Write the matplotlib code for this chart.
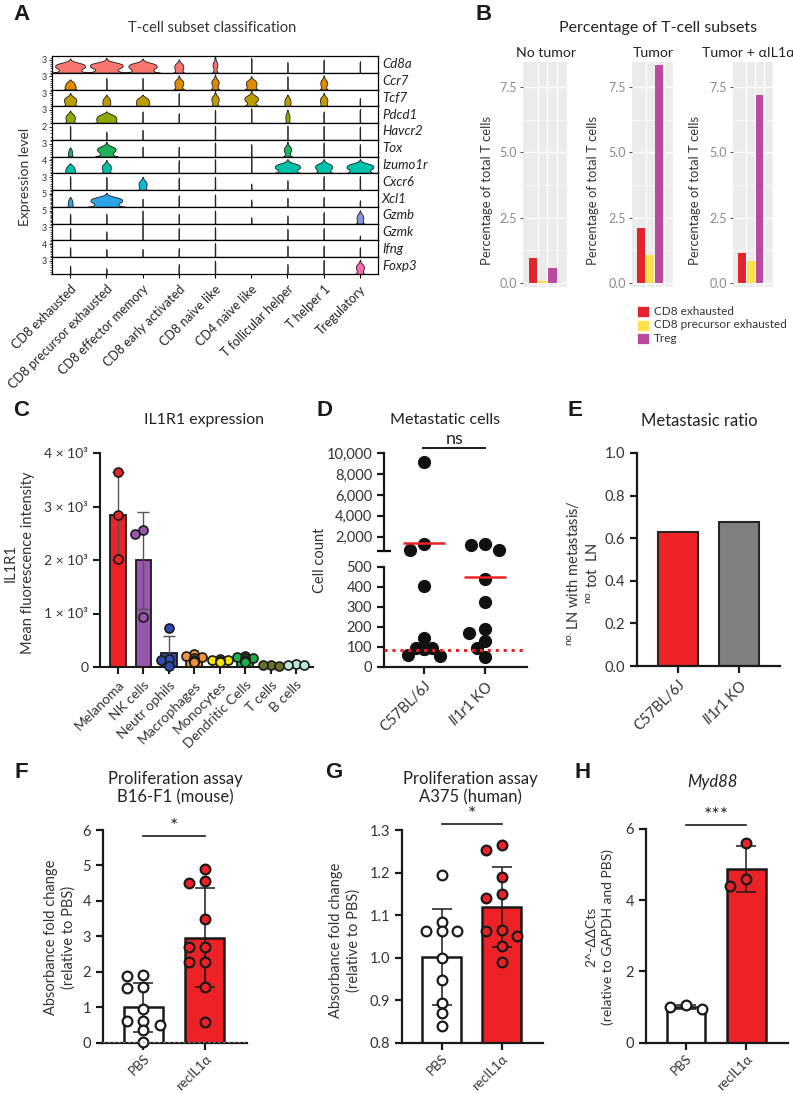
import numpy as np
import matplotlib
matplotlib.use("Agg")
import matplotlib.pyplot as plt
from matplotlib.patches import Rectangle
from matplotlib.ticker import FuncFormatter
import matplotlib.transforms as mtrans

plt.rcParams["font.family"] = ["Lato", "DejaVu Sans"]
plt.rcParams["mathtext.fontset"] = "custom"
plt.rcParams["mathtext.rm"] = "Lato"
plt.rcParams["mathtext.it"] = "Lato:italic"

# ---------------- data ----------------
# A: stacked violins (gene x subset)
genes = ["Cd8a", "Ccr7", "Tcf7", "Pdcd1", "Havcr2", "Tox", "Izumo1r",
         "Cxcr6", "Xcl1", "Gzmb", "Gzmk", "Ifng", "Foxp3"]
gene_max = [3, 3, 3, 3, 2, 3, 4, 3, 5, 5, 3, 4, 3]
subsets = ["CD8 exhausted", "CD8 precursor exhausted", "CD8 effector memory",
           "CD8 early activated", "CD8 naive like", "CD4 naive like",
           "T follicular helper", "T helper 1", "Tregulatory"]
gene_colors = ["#F8766D", "#E18A00", "#BE9C00", "#8CAB00", "#24B700", "#1FB25A",
               "#00C1AB", "#00BBDA", "#2FA3E8", "#8B93D8", "#D575FE", "#F962DD", "#FF65AC"]
# relative bulge width of each violin
violin_width = [
    [0.90, 1.00, 0.85, 0.25, 0.12, 0, 0, 0, 0],
    [0.25, 0, 0, 0.25, 0.20, 0.30, 0, 0.18, 0],
    [0.35, 0.20, 0.35, 0, 0.20, 0.40, 0.15, 0.20, 0],
    [0.25, 0.55, 0, 0, 0, 0, 0.10, 0, 0],
    [0, 0, 0, 0, 0, 0, 0, 0, 0],
    [0.08, 0.55, 0, 0, 0, 0, 0.20, 0, 0],
    [0.22, 0.25, 0, 0, 0, 0, 0.75, 0.50, 0.80],
    [0, 0, 0.22, 0, 0, 0, 0, 0, 0],
    [0.10, 0.95, 0, 0, 0, 0, 0, 0, 0],
    [0, 0, 0, 0, 0, 0, 0, 0, 0.18],
    [0, 0, 0, 0, 0, 0, 0, 0, 0],
    [0, 0, 0, 0, 0, 0, 0, 0, 0],
    [0, 0, 0, 0, 0, 0, 0, 0, 0.22],
]
# how high each violin reaches (fraction of row height)
violin_reach = [
    [0.86, 0.90, 0.85, 0.80, 1.00, 0.90, 0.65, 0.80, 0.70],
    [0.60, 0.70, 0.70, 0.85, 0.90, 0.80, 0.80, 0.85, 0],
    [0.80, 0.70, 0.70, 0.80, 0.90, 0.95, 0.70, 0.80, 0.50],
    [0.75, 0.70, 0.70, 0.60, 0.80, 0.90, 0.80, 0.70, 0.85],
    [0.85, 0.50, 0.60, 0, 0.85, 0, 0.85, 0.85, 0.80],
    [0.55, 0.90, 0.60, 0.60, 0.85, 0.75, 0.90, 0.85, 0.75],
    [0.60, 0.80, 0, 0.80, 0.85, 0.95, 0.85, 0.85, 0.85],
    [0.85, 0.80, 0.80, 0.75, 0.80, 0.40, 0.60, 0.85, 0.85],
    [0.60, 0.85, 0.50, 0.70, 0.75, 0.45, 0.55, 0.60, 0.40],
    [0.60, 0.60, 0.80, 0.60, 0.80, 0.40, 0.50, 0.70, 0.80],
    [0.75, 0.55, 0.95, 0.75, 0.80, 0, 0.70, 0.75, 0.30],
    [0.60, 0.50, 0.50, 0.55, 0.85, 0, 0.70, 0.70, 0.60],
    [0.50, 0.35, 0, 0.60, 0.80, 0, 0.60, 0.85, 0.85],
]

# B: percentage of T-cell subsets
b_conditions = ["No tumor", "Tumor", "Tumor + αIL1α"]
b_subsets = ["CD8 exhausted", "CD8 precursor exhausted", "Treg"]
b_cd8_exhausted = [0.97, 2.12, 1.15]
b_cd8_precursor = [0.08, 1.07, 0.85]
b_treg = [0.57, 8.32, 7.20]
b_colors = ["#E3242B", "#FCE24A", "#B94A9F"]

# C: IL1R1 expression
c_cells = ["Melanoma", "NK cells", "Neutr ophils", "Macrophages", "Monocytes",
           "Dendritic Cells", "T cells", "B cells"]
c_points = [
    [3640, 2850, 2020],
    [2560, 2480, 940],
    [720, 150, 130, 10],
    [240, 210, 180, 160, 140, 120, 100, 90],
    [150, 140, 130, 120, 110, 100],
    [200, 190, 175, 160, 140, 120, 100],
    [40, 30, 20],
    [50, 40, 30],
]
c_colors = ["#EC2227", "#9A55AE", "#2F4DB0", "#F39138", "#F3E600", "#1DAF4A",
            "#6E6E2C", "#BDE6DA"]

# D: metastatic cells
d_groups = ["C57BL/6J", "$\\mathit{Il1r1}$ KO"]
d_counts = [
    [9100, 1300, 700, 405, 142, 95, 92, 90, 88, 60, 55],
    [1300, 1250, 700, 440, 325, 187, 170, 130, 92, 47],
]
d_center_line = [1450, 450]
d_threshold = 83

# E: metastatic ratio
e_groups = ["C57BL/6J", "$\\mathit{Il1r1}$ KO"]
e_ratio = [0.63, 0.675]
e_colors = ["#EE2427", "#808080"]

# F, G, H: proliferation / qPCR
fgh_groups = ["PBS", "recIL1α"]
f_pbs = [1.88, 1.92, 1.55, 1.57, 0.95, 0.60, 0.50, 0.62, 0.35, 0.02]
f_rec = [4.89, 4.56, 4.50, 3.48, 2.71, 2.71, 2.27, 2.27, 1.58, 0.59]
g_pbs = [1.195, 1.083, 1.063, 1.063, 1.063, 1.000, 0.947, 0.894, 0.870, 0.840]
g_rec = [1.264, 1.253, 1.189, 1.150, 1.139, 1.065, 1.063, 1.051, 1.027, 0.989]
h_pbs = [0.95, 1.05, 1.00]
h_rec = [5.60, 4.40, 4.60]

RED = "#EC2227"

# ---------------- helpers ----------------
W, H = 793, 1093
fig = plt.figure(figsize=(W / 100, H / 100), dpi=100)


def px_axes(l, t, r, b):
    return fig.add_axes([l / W, 1 - b / H, (r - l) / W, (b - t) / H])


def ftext(x, y, s, **kw):
    kw.setdefault("ha", "center")
    kw.setdefault("va", "center")
    fig.text(x / W, 1 - y / H, s, **kw)


def swarm(values, px_x, px_y, diam, step, nmax=1):
    # simple beeswarm offsets in pixel space; overlap allowed when no room
    placed = []
    res = [0.0] * len(values)
    order = sorted(range(len(values)), key=lambda k: -values[k])
    slots = [0]
    for n in range(1, nmax + 1):
        slots += [-n, n]
    for k in order:
        v = values[k]
        ox = 0
        for n in slots:
            cand = n * step
            if all((cand - px) ** 2 + ((v - pv) * px_y) ** 2 >= diam ** 2
                   for px, pv in placed):
                ox = cand
                break
        placed.append((ox, v))
        res[k] = ox / px_x
    return res


def prism_style(ax, lw=1.6):
    for s in ["top", "right"]:
        ax.spines[s].set_visible(False)
    for s in ["left", "bottom"]:
        ax.spines[s].set_linewidth(lw)
        ax.spines[s].set_color("#1a1a1a")
    ax.tick_params(width=lw, length=5, color="#1a1a1a", labelsize=10.5,
                   labelcolor="#333333")


for letter, x, y in [("A", 21, 14), ("B", 484, 14), ("C", 21, 410), ("D", 325, 410),
                     ("E", 575, 410), ("F", 21, 773), ("G", 334, 773), ("H", 583, 773)]:
    ftext(x, y, letter, fontsize=16, fontweight="bold", family="Liberation Sans",
          color="#1a1a1a")

# ---------------- A ----------------
ftext(212, 28, "T-cell subset classification", fontsize=10.5, color="#333333")
ftext(25, 177, "Expression level", fontsize=10, rotation=90, color="#333333")
top_a, bot_a = 56, 274
row_h = (bot_a - top_a) / len(genes)
for i, g in enumerate(genes):
    t = top_a + i * row_h
    ax = px_axes(52, t, 378, t + row_h)
    M = gene_max[i]
    ytop = M / 0.78
    ax.set_xlim(-0.5, len(subsets) - 0.5)
    ax.set_ylim(0, ytop)
    for j in range(len(subsets)):
        reach = violin_reach[i][j]
        if reach <= 0:
            continue
        a = violin_width[i][j] * 0.46
        r = reach * ytop
        y = np.linspace(0, r, 400)
        u = y / ytop
        c = 0.48 * reach
        w = 0.012 + a * (0.95 * np.exp(-np.abs((u - c) / 0.23) ** 2.6)
                         + 0.85 * np.exp(-np.abs(u / 0.2) ** 2.0)) \
            + 0.35 * a * np.exp(-(u / 0.04) ** 2)
        w = w * np.clip((r - y) / (0.1 * ytop), 0.25, 1) ** 0.7
        fc = gene_colors[i] if a > 0 else "#1a1a1a"
        ax.fill_betweenx(y, j - w, j + w, facecolor=fc, edgecolor="#1a1a1a",
                         lw=0.6 if a > 0 else 0.4)
    ax.set_yticks([M])
    ax.set_yticks(np.arange(0, ytop, 0.5), minor=True)
    ax.tick_params(axis="y", which="major", labelsize=6.5, length=2, width=0.6,
                   pad=1.5, labelcolor="#333333")
    ax.tick_params(axis="y", which="minor", length=1.5, width=0.5)
    for s in ax.spines.values():
        s.set_linewidth(0.9)
    ax.text(1.012, 0.5, g, transform=ax.transAxes, fontsize=9.5, style="italic",
            va="center", ha="left", color="#222222")
    if i == len(genes) - 1:
        ax.set_xticks(range(len(subsets)))
        ax.set_xticklabels(subsets, rotation=45, ha="right", rotation_mode="anchor",
                           fontsize=9, color="#222222")
        ax.tick_params(axis="x", length=3, width=0.8)
    else:
        ax.set_xticks([])

# ---------------- B ----------------
ftext(658, 28, "Percentage of T-cell subsets", fontsize=11.5, color="#222222")
b_vals = [b_cd8_exhausted, b_cd8_precursor, b_treg]
b_panels = [(523, 567, 546, 487), (632, 673, 653, 593), (733, 773, 748, 695)]
for k, (l, r, tx, lx) in enumerate(b_panels):
    ax = px_axes(l, 62, r, 287)
    ax.set_facecolor("#EBEBEB")
    for s in ax.spines.values():
        s.set_visible(False)
    ax.set_xlim(-0.04, 4.54)
    ax.set_ylim(-0.15, 8.45)
    for yv in [1.25, 3.75, 6.25]:
        ax.axhline(yv, color="white", lw=0.5, zorder=0)
    for yv in [0, 2.5, 5.0, 7.5]:
        ax.axhline(yv, color="white", lw=1.0, zorder=0)
    for xv in [1.5, 2.5, 3.5, 4.5]:
        ax.axvline(xv, color="white", lw=1.0, zorder=0)
    for m in range(3):
        ax.bar(m + 1, b_vals[m][k], width=0.9, color=b_colors[m], zorder=2)
    ax.set_xticks([])
    ax.set_yticks([0, 2.5, 5.0, 7.5])
    ax.set_yticklabels(["0.0", "2.5", "5.0", "7.5"])
    ax.tick_params(axis="y", length=2.5, width=0.8, color="#555555", labelsize=9,
                   labelcolor="#888888", pad=2)
    ftext(tx, 53, b_conditions[k], fontsize=10.2, color="#222222")
    ftext(lx, 190, "Percentage of total T cells", fontsize=9.4, rotation=90,
          color="#333333")
for m, lab in enumerate(b_subsets):
    yy = 306 + m * 13.5
    fig.add_artist(Rectangle((637 / W, 1 - (yy + 11) / H), 12 / W, 11 / H,
                             transform=fig.transFigure, facecolor=b_colors[m],
                             edgecolor="white", lw=0.5))
    ftext(654, yy + 5.5, lab, fontsize=8.5, ha="left", color="#333333")

# ---------------- C ----------------
ftext(204, 420, "IL1R1 expression", fontsize=11.4, color="#222222")
ftext(19, 563, "IL1R1\nMean fluorescence intensity", fontsize=10.5, rotation=90,
      color="#333333", linespacing=1.3)
ax = px_axes(100, 453, 313, 667)
prism_style(ax, lw=1.5)
ax.set_xlim(-0.71, 7.67)
ax.set_ylim(0, 4000)
for k, pts in enumerate(c_points):
    mean = np.mean(pts)
    sd = np.std(pts, ddof=1)
    ax.bar(k, mean, width=0.62, color=c_colors[k], edgecolor="#1a1a1a", lw=1.3, zorder=2)
    ax.errorbar(k, mean, yerr=sd, color="#555555", lw=1.0, capsize=4, capthick=1.0,
                zorder=3)
    offs = swarm(pts, 25.4, 214 / 4000, 7, 4, nmax=2)
    ax.plot(np.array(offs) + k, pts, "o", ms=6.5, mfc=c_colors[k], mec="#1a1a1a",
            mew=1.2, zorder=4, clip_on=False)
ax.set_yticks([0, 1000, 2000, 3000, 4000])
ax.yaxis.set_major_formatter(FuncFormatter(
    lambda v, p: "0" if v == 0 else f"{int(v / 1000)} × 10³"))
ax.set_xticks(range(len(c_cells)))
ax.set_xticklabels(c_cells, rotation=45, ha="right", rotation_mode="anchor", fontsize=10)
ax.tick_params(axis="y", labelsize=10)

# ---------------- D ----------------
ftext(445, 420, "Metastatic cells", fontsize=11.6, color="#222222")
ftext(320, 560, "Cell count", fontsize=10.5, rotation=90, color="#333333")
ax_up = px_axes(384, 453, 527, 551)
ax_lo = px_axes(384, 566.7, 527, 666.7)
split = 600
for ax in (ax_up, ax_lo):
    prism_style(ax, lw=1.6)
    ax.set_xlim(-0.66, 1.69)
ax_up.set_ylim(650, 10000)
ax_lo.set_ylim(0, 500)
ax_up.spines["bottom"].set_visible(False)
ax_up.set_xticks([])
ax_up.set_yticks([2000, 4000, 6000, 8000, 10000])
ax_up.yaxis.set_major_formatter(FuncFormatter(lambda v, p: f"{int(v):,}"))
ax_up.set_yticks([650], minor=True)
ax_up.tick_params(axis="y", which="minor", direction="inout", length=10, width=1.6)
ax_lo.set_yticks([0, 100, 200, 300, 400, 500])
ax_lo.set_xticks([0, 1])
ax_lo.set_xticklabels(d_groups, rotation=45, ha="right", rotation_mode="anchor")
for ax in (ax_up, ax_lo):
    ax.tick_params(labelsize=10.5)
for k, pts in enumerate(d_counts):
    hi = [v for v in pts if v >= split]
    lo = [v for v in pts if v < split]
    oh = swarm(hi, 61, 98 / 9350, 11, 14, nmax=1)
    ol = swarm(lo, 61, 100 / 500, 10, 8, nmax=2)
    ax_up.plot(np.array(oh) + k, hi, "o", ms=8.5, color="#111111", zorder=4, clip_on=False)
    ax_lo.plot(np.array(ol) + k, lo, "o", ms=8.5, color="#111111", zorder=4, clip_on=False)
    tgt = ax_up if d_center_line[k] >= split else ax_lo
    tgt.hlines(d_center_line[k], k - 0.34, k + 0.34, color=RED, lw=1.8, zorder=5)
ax_lo.axhline(d_threshold, color=RED, lw=2.2, ls=(0, (1, 1.6)), zorder=5)
tr = mtrans.blended_transform_factory(ax_up.transData, ax_up.transAxes)
ax_up.plot([-0.02, 1.0], [1.05, 1.05], color="#1a1a1a", lw=1.4, transform=tr,
           clip_on=False)
ax_up.text(0.5, 1.06, "ns", transform=tr, ha="center", va="bottom", fontsize=13,
           color="#222222")

# ---------------- E ----------------
ftext(699, 421, "Metastasic ratio", fontsize=12, color="#222222")
ftext(583, 573, "$^{\\mathrm{no.}}$LN with metastasis/\n$^{\\mathrm{no.}}$tot  LN",
      fontsize=10.5, rotation=90, color="#333333", linespacing=1.3)
ax = px_axes(637, 453, 780, 666)
prism_style(ax, lw=1.6)
ax.set_xlim(-0.667, 1.66)
ax.set_ylim(0, 1.0)
ax.bar(range(2), e_ratio, width=0.65, color=e_colors, edgecolor="#262626", lw=1.5)
ax.set_yticks([0, 0.2, 0.4, 0.6, 0.8, 1.0])
ax.yaxis.set_major_formatter(FuncFormatter(lambda v, p: f"{v:.1f}"))
ax.set_xticks([0, 1])
ax.set_xticklabels(e_groups, rotation=45, ha="right", rotation_mode="anchor")


# ---------------- F, G, H ----------------
def prolif(ax, pbs, rec, ylim, yticks, fmt, sig, sig_y, px_y, zero_line=False):
    prism_style(ax, lw=1.6)
    ax.set_xlim(-0.66, 1.69)
    ax.set_ylim(*ylim)
    for k, (pts, fc) in enumerate([(pbs, "white"), (rec, RED)]):
        mean = np.mean(pts)
        sd = np.std(pts, ddof=1)
        ax.bar(k, mean - ylim[0], bottom=ylim[0], width=0.64, color=fc,
               edgecolor="#1a1a1a", lw=1.8, zorder=2)
        ax.errorbar(k, mean, yerr=sd, color="#1a1a1a", lw=1.1, capsize=7, capthick=1.1,
                    zorder=3)
        offs = swarm(pts, 60.5, px_y, 8, 16, nmax=1)
        ax.plot(np.array(offs) + k, pts, "o", ms=7, mfc=fc, mec="#1a1a1a", mew=1.6,
                zorder=4, clip_on=False)
    if zero_line:
        ax.axhline(0, color="#888888", lw=1.2, ls=(0, (1.5, 1.5)), zorder=5)
    ax.set_yticks(yticks)
    ax.yaxis.set_major_formatter(FuncFormatter(fmt))
    ax.set_xticks([0, 1])
    ax.set_xticklabels(fgh_groups, rotation=45, ha="right", rotation_mode="anchor",
                       fontsize=9.5)
    ax.tick_params(axis="x", pad=2)
    tr = mtrans.blended_transform_factory(ax.transData, ax.transAxes)
    ax.plot([0, 1], [sig_y, sig_y], color="#1a1a1a", lw=1.2, transform=tr, clip_on=False)
    ax.text(0.5, sig_y + 0.003, sig, transform=tr, ha="center", va="bottom",
            fontsize=14, color="#222222")


ftext(175, 788, "Proliferation assay\nB16-F1 (mouse)", fontsize=12, color="#222222",
      linespacing=1.2)
ftext(60, 937, "Absorbance fold change\n(relative to PBS)", fontsize=10.5, rotation=90,
      color="#333333", linespacing=1.3)
ax = px_axes(103, 830, 247, 1042.7)
prolif(ax, f_pbs, f_rec, (0, 6), [0, 1, 2, 3, 4, 5, 6], lambda v, p: f"{int(v)}",
       "*", 0.972, 35.4, zero_line=True)

ftext(470, 788, "Proliferation assay\nA375 (human)", fontsize=12, color="#222222",
      linespacing=1.2)
ftext(345, 940, "Absorbance fold change\n(relative to PBS)", fontsize=10.5, rotation=90,
      color="#333333", linespacing=1.3)
ax = px_axes(402, 830, 543, 1042.7)
prolif(ax, g_pbs, g_rec, (0.8, 1.3), [0.8, 0.9, 1.0, 1.1, 1.2, 1.3],
       lambda v, p: f"{v:.1f}", "*", 1.028, 425.4)

ftext(712, 782, "Myd88", fontsize=12, style="italic", color="#222222")
ftext(600, 937, "2^-ΔΔCts\n(relative to GAPDH and PBS)", fontsize=10, rotation=90,
      color="#333333", linespacing=1.4)
ax = px_axes(646, 829, 788, 1042.7)
prolif(ax, h_pbs, h_rec, (0, 6), [0, 2, 4, 6], lambda v, p: f"{int(v)}",
       "***", 1.019, 35.6)

fig.savefig("out.png", dpi=100)
